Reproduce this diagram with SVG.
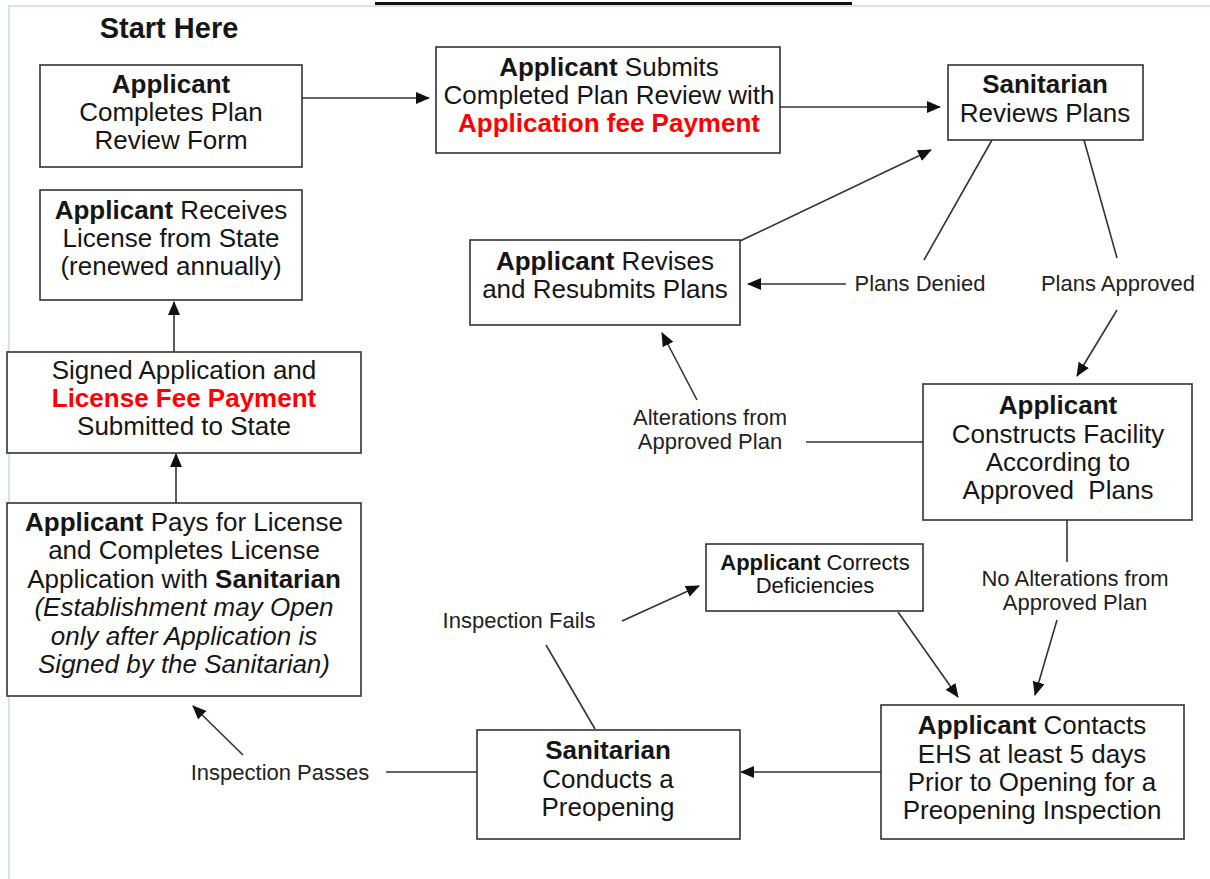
<svg xmlns="http://www.w3.org/2000/svg" width="1210" height="879" viewBox="0 0 1210 879">
<defs>
<marker id="ah" markerUnits="userSpaceOnUse" markerWidth="14" markerHeight="12" viewBox="0 0 14 12" refX="13" refY="6" orient="auto">
<path d="M0,0 L14,6 L0,12 z" fill="#111"/>
</marker>
</defs>
<style>
.box{fill:#fff;stroke:#333;stroke-width:1.6}
.t{font-family:"Liberation Sans",Arial,sans-serif;font-size:26px;fill:#161616;text-anchor:middle}
.s{font-family:"Liberation Sans",Arial,sans-serif;font-size:22px;fill:#222;text-anchor:middle}
.b{font-weight:bold}
.r{font-weight:bold;fill:#ff0000}
.i{font-style:italic}
.c{stroke:#333;stroke-width:1.6;fill:none}
.a{stroke:#333;stroke-width:1.6;fill:none;marker-end:url(#ah)}
</style>
<rect width="1210" height="879" fill="#fff"/>
<g id="frame">
<line x1="8" y1="6" x2="1210" y2="6" stroke="#d3e3f2" stroke-width="2"/>
<line x1="9" y1="6" x2="9" y2="879" stroke="#d3e3f2" stroke-width="2"/>
<line x1="375" y1="3.5" x2="852" y2="3.5" stroke="#111" stroke-width="3"/>
</g>
<g id="start-here"><text class="t b" x="169" y="38" style="font-size:29px">Start Here</text></g>

<g id="connectors">
<line class="a" x1="302" y1="98" x2="429" y2="98"/>
<line class="a" x1="780" y1="107" x2="940" y2="107"/>
<line class="a" x1="740" y1="241" x2="931" y2="150"/>
<line class="c" x1="992" y1="140" x2="924" y2="260"/>
<line class="a" x1="846" y1="284" x2="748" y2="284"/>
<line class="c" x1="1084" y1="140" x2="1117" y2="258"/>
<line class="a" x1="1117" y1="310" x2="1077" y2="376"/>
<line class="c" x1="923" y1="442" x2="806" y2="442"/>
<line class="a" x1="697" y1="400" x2="662" y2="333"/>
<line class="c" x1="1067" y1="495" x2="1067" y2="562"/>
<line class="a" x1="1057" y1="620" x2="1035" y2="695"/>
<line class="a" x1="898" y1="612" x2="958" y2="697"/>
<line class="c" x1="595" y1="729" x2="546" y2="645"/>
<line class="a" x1="622" y1="621" x2="699" y2="586"/>
<line class="a" x1="881" y1="772" x2="741" y2="772"/>
<line class="c" x1="477" y1="772" x2="386" y2="772"/>
<line class="a" x1="243" y1="755" x2="193" y2="706"/>
<line class="a" x1="176" y1="503" x2="176" y2="454"/>
<line class="a" x1="174" y1="352" x2="174" y2="302"/>
</g>

<g id="n-completes-form">
<rect class="box" x="40" y="65" width="262" height="102"/>
<text class="t" x="171" y="93"><tspan class="b">Applicant</tspan></text>
<text class="t" x="171" y="121">Completes Plan</text>
<text class="t" x="171" y="149">Review Form</text>
</g>

<g id="n-submits">
<rect class="box" x="436" y="47" width="344" height="106"/>
<text class="t" x="609" y="76"><tspan class="b">Applicant</tspan> Submits</text>
<text class="t" x="609" y="104">Completed Plan Review with</text>
<text class="t" x="609" y="132"><tspan class="r">Application fee Payment</tspan></text>
</g>

<g id="n-reviews">
<rect class="box" x="948" y="65" width="195" height="75"/>
<text class="t" x="1045" y="93"><tspan class="b">Sanitarian</tspan></text>
<text class="t" x="1045" y="122">Reviews Plans</text>
</g>

<g id="n-receives">
<rect class="box" x="40" y="190" width="262" height="110"/>
<text class="t" x="171" y="219"><tspan class="b">Applicant</tspan> Receives</text>
<text class="t" x="171" y="247">License from State</text>
<text class="t" x="171" y="275">(renewed annually)</text>
</g>

<g id="n-revises">
<rect class="box" x="470" y="240" width="270" height="85"/>
<text class="t" x="605" y="270"><tspan class="b">Applicant</tspan> Revises</text>
<text class="t" x="605" y="298">and Resubmits Plans</text>
</g>

<g id="n-signed">
<rect class="box" x="7" y="352" width="354" height="101"/>
<text class="t" x="184" y="379">Signed Application and</text>
<text class="t" x="184" y="407"><tspan class="r">License Fee Payment</tspan></text>
<text class="t" x="184" y="435">Submitted to State</text>
</g>

<g id="n-constructs">
<rect class="box" x="923" y="384" width="269" height="136"/>
<text class="t" x="1058" y="414"><tspan class="b">Applicant</tspan></text>
<text class="t" x="1058" y="443">Constructs Facility</text>
<text class="t" x="1058" y="471">According to</text>
<text class="t" x="1058" y="499" xml:space="preserve">Approved  Plans</text>
</g>

<g id="n-pays">
<rect class="box" x="7" y="503" width="354" height="193"/>
<text class="t" x="184" y="531"><tspan class="b">Applicant</tspan> Pays for License</text>
<text class="t" x="184" y="559">and Completes License</text>
<text class="t" x="184" y="588">Application with <tspan class="b">Sanitarian</tspan></text>
<text class="t i" x="184" y="616">(Establishment may Open</text>
<text class="t i" x="184" y="645">only after Application is</text>
<text class="t i" x="184" y="673">Signed by the Sanitarian)</text>
</g>

<g id="n-corrects">
<rect class="box" x="706" y="544" width="217" height="67"/>
<text class="t" x="815" y="570" style="font-size:22px"><tspan class="b">Applicant</tspan> Corrects</text>
<text class="t" x="815" y="593" style="font-size:22px">Deficiencies</text>
</g>

<g id="n-preopening">
<rect class="box" x="477" y="730" width="263" height="109"/>
<text class="t" x="608" y="759"><tspan class="b">Sanitarian</tspan></text>
<text class="t" x="608" y="788">Conducts a</text>
<text class="t" x="608" y="816">Preopening</text>
</g>

<g id="n-contacts">
<rect class="box" x="881" y="705" width="303" height="134"/>
<text class="t" x="1032" y="734"><tspan class="b">Applicant</tspan> Contacts</text>
<text class="t" x="1032" y="763">EHS at least 5 days</text>
<text class="t" x="1032" y="791">Prior to Opening for a</text>
<text class="t" x="1032" y="819">Preopening Inspection</text>
</g>

<g id="labels">
<text class="s" x="920" y="291">Plans Denied</text>
<text class="s" x="1118" y="291">Plans Approved</text>
<text class="s" x="710" y="425">Alterations from</text>
<text class="s" x="710" y="449">Approved Plan</text>
<text class="s" x="1075" y="586">No Alterations from</text>
<text class="s" x="1075" y="610">Approved Plan</text>
<text class="s" x="519" y="628">Inspection Fails</text>
<text class="s" x="280" y="780">Inspection Passes</text>
</g>
</svg>
